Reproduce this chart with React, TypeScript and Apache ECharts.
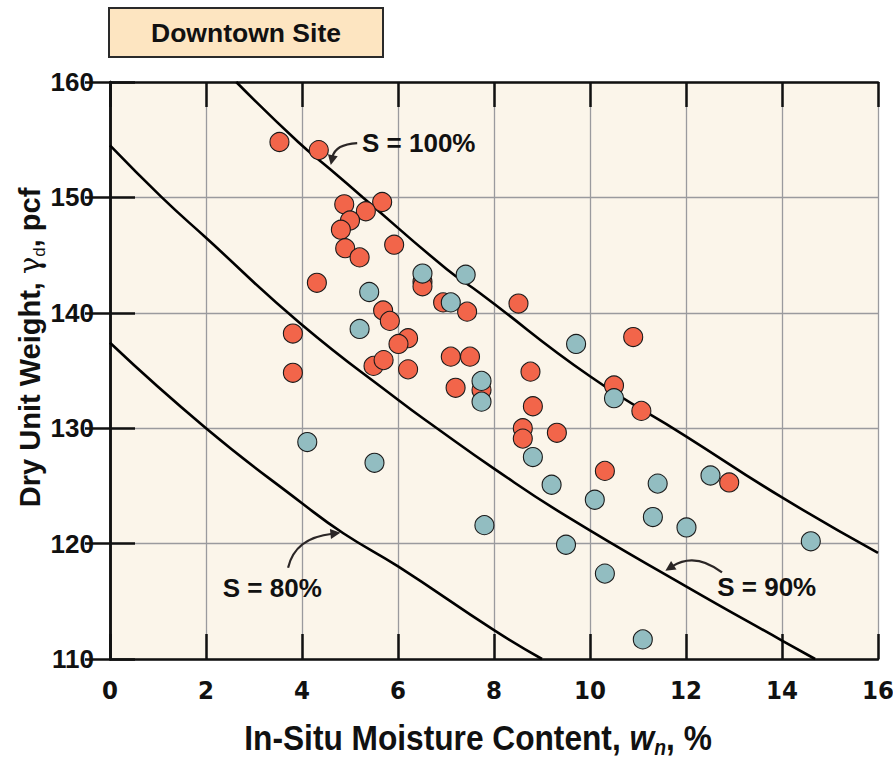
import React, { useEffect, useRef } from "react";
import * as echarts from "echarts";

// Field samples: in-situ moisture content (%) and dry unit weight (pcf)
const groupAMoisture = [
  3.53, 4.35, 4.88, 5.67, 5.33, 5.0, 4.81, 4.9, 5.2, 5.92, 4.31, 6.51, 6.51, 6.94,
  7.44, 8.51, 5.69, 5.83, 3.81, 6.21, 6.01, 5.49, 5.7, 6.21, 7.1, 7.5, 3.81, 8.76,
  7.2, 7.74, 10.9, 10.5, 11.07, 8.81, 8.6, 8.6, 9.31, 10.31, 12.9,
];
const groupADensity = [
  154.8, 154.1, 149.4, 149.6, 148.8, 148.0, 147.2, 145.6, 144.8, 145.9, 142.6, 142.7,
  142.3, 140.9, 140.1, 140.8, 140.2, 139.3, 138.2, 137.8, 137.3, 135.4, 135.9, 135.1,
  136.2, 136.2, 134.8, 134.9, 133.5, 133.3, 137.9, 133.7, 131.5, 131.9, 130.0, 129.1,
  129.6, 126.3, 125.3,
];
const groupBMoisture = [
  6.51, 7.41, 5.4, 7.1, 5.2, 9.71, 7.74, 7.74, 10.5, 8.81, 4.11, 5.51, 9.2, 10.1,
  12.51, 11.41, 11.31, 12.01, 7.8, 9.5, 10.31, 14.6, 11.1,
];
const groupBDensity = [
  143.4, 143.3, 141.8, 140.9, 138.6, 137.3, 134.1, 132.3, 132.6, 127.5, 128.8, 127.0,
  125.1, 123.8, 125.9, 125.2, 122.3, 121.4, 121.6, 119.9, 117.4, 120.2, 111.7,
];

// Degree-of-saturation curves
const sat100Moisture = [2.63, 3.92, 4.6, 5.27, 7.01, 7.71, 10, 12, 14, 16];
const sat100Density = [160, 154.8, 152.4, 150.0, 143.8, 141.7, 134.5, 129.3, 124.0, 119.2];
const sat90Moisture = [0, 1.08, 2, 3.96, 6.02, 6.81, 8, 9.5, 12, 14, 14.69];
const sat90Density = [154.5, 150.0, 146.5, 139.1, 132.4, 130.0, 126.5, 122.4, 116.3, 111.6, 110];
const sat80Moisture = [0, 2, 4, 4.86, 6.01, 8, 9.0];
const sat80Density = [137.4, 130.0, 123.5, 120.9, 118.0, 112.5, 110];

const xTicks = [0, 16, 2];
const yTicks = [110, 160, 10];

const curveLabels = ["S = 100%", "S = 90%", "S = 80%"];

const pairs = (xs: number[], ys: number[]) => xs.map((x, i) => [x, ys[i]]);

const BOLD = "'Liberation Sans', Arial, Helvetica, sans-serif";
const NARROW = "'Liberation Sans Narrow', 'Arial Narrow', 'DejaVu Sans Condensed', sans-serif";

export default function App() {
  const ref = useRef<HTMLDivElement>(null);

  useEffect(() => {
    if (!ref.current) return;
    const chart = echarts.init(ref.current, undefined, { renderer: "svg" });

    const tickStyle = { show: true, inside: true, length: 25, lineStyle: { color: "#111", width: 2.5 } };
    const frame = { show: true, lineStyle: { color: "#111", width: 2.5 } };

    const curve = (data: number[][]) => ({
      type: "line",
      data,
      showSymbol: false,
      smooth: 0.5,
      lineStyle: { color: "#000", width: 2.6 },
      z: 2,
      silent: true,
    });

    chart.setOption({
      animation: false,
      backgroundColor: "#ffffff",
      grid: {
        left: 110,
        top: 82,
        width: 768,
        height: 577,
        outerBoundsMode: "none",
        containLabel: false,
        show: true,
        backgroundColor: "#FBF5EA",
        borderWidth: 0,
      },
      xAxis: [
        {
          type: "value",
          min: xTicks[0],
          max: xTicks[1],
          interval: xTicks[2],
          position: "bottom",
          axisLine: frame,
          axisTick: tickStyle,
          splitLine: { show: true, lineStyle: { color: "#9a9a9e", width: 1.3 } },
          axisLabel: {
            margin: 18,
            fontSize: 25.5,
            fontWeight: "bold",
            fontFamily: NARROW,
            color: "#111",
          },
        },
        {
          type: "value",
          min: xTicks[0],
          max: xTicks[1],
          interval: xTicks[2],
          position: "top",
          axisLine: frame,
          axisTick: tickStyle,
          axisLabel: { show: false },
          splitLine: { show: false },
        },
      ],
      yAxis: [
        {
          type: "value",
          min: yTicks[0],
          max: yTicks[1],
          interval: yTicks[2],
          position: "left",
          axisLine: frame,
          axisTick: tickStyle,
          splitLine: { show: true, lineStyle: { color: "#9a9a9e", width: 1.3 } },
          axisLabel: {
            margin: 16,
            fontSize: 26,
            fontWeight: "bold",
            fontFamily: BOLD,
            color: "#111",
          },
        },
        {
          type: "value",
          min: yTicks[0],
          max: yTicks[1],
          interval: yTicks[2],
          position: "right",
          axisLine: frame,
          axisTick: tickStyle,
          axisLabel: { show: false },
          splitLine: { show: false },
        },
      ],
      series: [
        curve(pairs(sat100Moisture, sat100Density)),
        curve(pairs(sat90Moisture, sat90Density)),
        curve(pairs(sat80Moisture, sat80Density)),
        {
          type: "scatter",
          data: pairs(groupAMoisture, groupADensity),
          symbol: "circle",
          symbolSize: 19,
          itemStyle: { color: "#F2654A", borderColor: "#1a1a1a", borderWidth: 1.1, opacity: 1 },
          z: 3,
        },
        {
          type: "scatter",
          data: pairs(groupBMoisture, groupBDensity),
          symbol: "circle",
          symbolSize: 19,
          itemStyle: { color: "#92BDC1", borderColor: "#1a1a1a", borderWidth: 1.1, opacity: 1 },
          z: 4,
        },
      ],
    });

    // Curve call-outs, positioned in data units: label anchor, arrow start, control, tip
    const callouts = [
      { label: curveLabels[0], at: [5.25, 154.7], from: [5.15, 154.7], ctrl: [4.69, 154.6], to: [4.6, 152.8] },
      { label: curveLabels[1], at: [12.65, 116.24], from: [12.75, 117.5], ctrl: [12.19, 119.3], to: [11.57, 117.65] },
      { label: curveLabels[2], at: [2.35, 116.15], from: [3.71, 117.9], ctrl: [3.85, 120.5], to: [4.8, 120.93] },
    ];
    const px = (p: number[]) => chart.convertToPixel({ gridIndex: 0 }, p) as number[];

    const xNameAnchor = px([8, 110]);
    const yNameAnchor = px([0, 137]);

    const graphics: any[] = [
      {
        type: "rect",
        shape: { x: 109, y: 8, width: 274, height: 49 },
        style: { fill: "#FDE5C1", stroke: "#2a2a2a", lineWidth: 2 },
        z: 10,
      },
      {
        type: "text",
        x: 246,
        y: 33,
        style: {
          text: "Downtown Site",
          fontSize: 26.5,
          fontWeight: "bold",
          fontFamily: BOLD,
          fill: "#111",
          align: "center",
          verticalAlign: "middle",
        },
        z: 11,
      },
      // x-axis title, set in a condensed bold face
      {
        type: "text",
        x: xNameAnchor[0] - 16,
        y: xNameAnchor[1] + 78,
        scaleX: 0.88,
        style: {
          text: "{a|In-Situ Moisture Content, }{i|w}{s|n}{a|, %}",
          align: "center",
          verticalAlign: "middle",
          rich: {
            a: { fontSize: 36, fontWeight: "bold", fontFamily: BOLD, fill: "#111", lineHeight: 42, verticalAlign: "middle" },
            i: { fontSize: 36, fontWeight: "bold", fontStyle: "italic", fontFamily: BOLD, fill: "#111", lineHeight: 42, verticalAlign: "middle" },
            s: { fontSize: 22, fontWeight: "bold", fontStyle: "italic", fontFamily: BOLD, fill: "#111", lineHeight: 23, verticalAlign: "bottom" },
          },
        },
        z: 11,
      },
      // y-axis title, read bottom to top
      {
        type: "text",
        x: yNameAnchor[0] - 80,
        y: yNameAnchor[1],
        rotation: Math.PI / 2,
        style: {
          text: "{a|Dry Unit Weight, }{g|γ}{s|d}{a|, pcf}",
          align: "center",
          verticalAlign: "middle",
          rich: {
            a: { fontSize: 29, fontWeight: "bold", fontFamily: BOLD, fill: "#111", lineHeight: 36, verticalAlign: "middle" },
            g: { fontSize: 29, fontWeight: "normal", fontFamily: "'DejaVu Serif', serif", fill: "#111", lineHeight: 36, verticalAlign: "middle" },
            s: { fontSize: 17, fontWeight: "normal", fontFamily: BOLD, fill: "#111", lineHeight: 21, verticalAlign: "bottom" },
          },
        },
        z: 11,
      },
    ];

    callouts.forEach((c) => {
      const a = px(c.at);
      const s = px(c.from);
      const k = px(c.ctrl);
      const t = px(c.to);
      graphics.push({
        type: "text",
        x: a[0],
        y: a[1],
        style: {
          text: c.label,
          fontSize: 26,
          fontWeight: "bold",
          fontFamily: BOLD,
          fill: "#111",
          align: "left",
          verticalAlign: "middle",
        },
        z: 12,
      });
      // quadratic shaft, ending just behind the arrow head
      const dx = t[0] - k[0];
      const dy = t[1] - k[1];
      const len = Math.hypot(dx, dy) || 1;
      const ux = dx / len;
      const uy = dy / len;
      const headLen = 10;
      const headW = 5;
      const base = [t[0] - ux * headLen, t[1] - uy * headLen];
      graphics.push({
        type: "bezierCurve",
        shape: { x1: s[0], y1: s[1], cpx1: k[0], cpy1: k[1], x2: base[0] + ux * 2, y2: base[1] + uy * 2 },
        style: { stroke: "#2b2626", lineWidth: 2.2, fill: null },
        z: 12,
      });
      graphics.push({
        type: "polygon",
        shape: {
          points: [
            [t[0], t[1]],
            [base[0] - uy * headW, base[1] + ux * headW],
            [base[0] + uy * headW, base[1] - ux * headW],
          ],
        },
        style: { fill: "#2b2626" },
        z: 12,
      });
    });

    chart.setOption({ graphic: graphics });

    return () => chart.dispose();
  }, []);

  return (
    <div
      ref={ref}
      style={{ position: "fixed", left: 0, top: 0, width: 893, height: 759, background: "#fff" }}
    />
  );
}
